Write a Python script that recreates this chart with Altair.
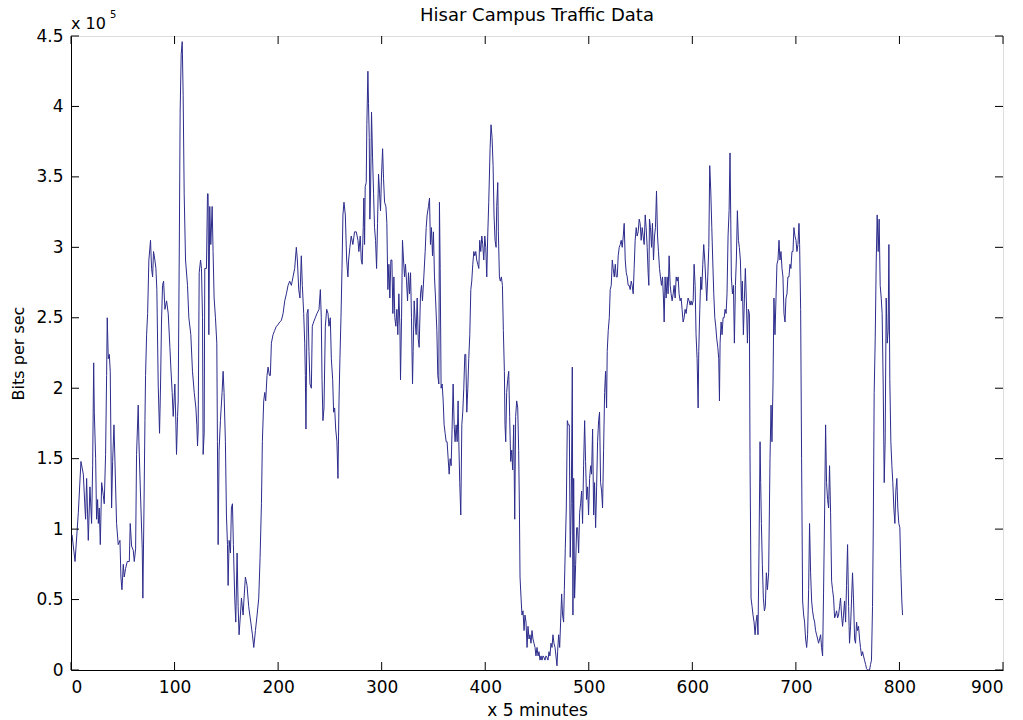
import altair as alt
import pandas as pd

# sample index (x 5 minutes) and traffic in units of 1e5 bits/sec
idx = [1, 3.9, 7.1, 9.6, 11.9, 13.5, 14.1, 15.1, 16.7, 18.3, 19.9, 20.9, 21.9, 22.5, 23.8, 24.7, 25.7, 26.4, 27.3, 28.3,
       29.6, 31.2, 32.1, 33.4, 34.4, 35.0, 36.0, 37.0, 37.9, 39.2, 40.2, 41.5, 42.4, 44.0, 45.6, 47.3, 48.2, 49.2, 50.5, 51.4,
       52.7, 54.3, 56.3, 57.2, 58.5, 60.1, 61.1, 62.4, 63.3, 64.9, 65.6, 66.9, 68.8, 69.4, 70.4, 71.4, 72.0, 73.0, 74.0, 75.2,
       76.8, 77.8, 78.8, 79.7, 81.0, 82.0, 82.9, 84.2, 85.5, 86.5, 87.4, 88.4, 89.4, 90.7, 92.3, 93.9, 95.5, 96.4, 97.7, 98.7,
       100.3, 101.3, 101.9, 102.9, 103.5, 104.5, 105.4, 106.4, 107.4, 108.3, 109.3, 110.6, 112.5, 113.8, 115.7, 117.3, 119.0, 120.6, 121.5, 122.2,
       122.8, 123.8, 125.1, 126.0, 127.0, 127.6, 128.6, 129.2, 130.8, 131.8, 132.4, 133.1, 134.0, 135.0, 136.3, 137.2, 138.2, 139.5, 140.8, 141.4,
       142.1, 143.0, 144.3, 145.9, 146.9, 147.8, 149.1, 150.1, 151.1, 151.7, 152.7, 154.0, 154.9, 155.9, 156.8, 158.1, 159.1, 160.4, 161.4, 162.3,
       163.6, 164.6, 166.2, 167.1, 168.4, 170.0, 171.6, 173.6, 175.2, 176.5, 178.1, 179.7, 181.3, 182.6, 183.9, 184.8, 186.1, 187.1, 188.0, 189.3,
       190.3, 191.6, 192.5, 193.5, 195.1, 196.7, 198.3, 199.9, 201.5, 203.1, 204.8, 206.4, 208.0, 209.6, 211.2, 212.8, 214.4, 216.0, 217.6, 218.6,
       219.9, 221.1, 222.4, 223.4, 224.7, 225.7, 226.3, 226.9, 227.9, 228.9, 229.8, 230.8, 232.1, 233.0, 234.3, 235.9, 237.5, 239.5, 240.8, 241.7,
       242.4, 243.3, 244.3, 245.6, 246.9, 248.2, 249.1, 250.4, 251.4, 252.7, 253.6, 254.6, 255.6, 256.8, 257.8, 258.8, 259.7, 260.7, 261.7, 262.6,
       263.6, 264.9, 266.2, 267.4, 268.1, 269.3, 270.6, 272.2, 273.8, 275.5, 277.1, 278.0, 279.3, 280.3, 281.2, 282.2, 282.8, 283.5, 284.1, 285.1,
       285.7, 286.7, 287.3, 288.0, 288.6, 289.3, 290.2, 291.2, 292.2, 293.1, 294.1, 295.1, 296.0, 297.0, 298.0, 298.9, 299.9, 300.9, 301.8, 302.8,
       304.1, 305.0, 306.0, 307.0, 307.9, 308.9, 309.9, 310.8, 311.8, 312.7, 313.7, 314.7, 315.6, 316.6, 317.6, 318.2, 319.2, 320.1, 321.1, 322.1,
       323.0, 324.0, 325.0, 325.9, 326.9, 327.9, 328.8, 329.8, 330.4, 331.4, 332.4, 333.3, 334.3, 335.3, 336.2, 337.5, 338.5, 339.4, 340.7, 342.0,
       343.0, 343.9, 345.2, 346.2, 347.1, 348.1, 349.1, 350.0, 351.0, 352.0, 353.3, 354.2, 355.2, 355.8, 356.5, 357.4, 358.4, 359.4, 360.3, 361.3,
       362.3, 363.2, 364.2, 365.2, 366.1, 367.1, 368.0, 369.0, 370.0, 370.9, 371.9, 372.9, 373.8, 374.5, 375.4, 376.4, 377.4, 378.3, 379.3, 380.3,
       381.2, 382.2, 383.2, 384.1, 385.1, 386.1, 387.0, 388.0, 389.0, 389.9, 390.9, 391.8, 392.8, 393.8, 394.7, 395.7, 396.7, 397.6, 398.6, 399.6,
       400.5, 401.5, 402.4, 403.4, 404.7, 405.6, 406.6, 407.6, 408.5, 409.5, 410.5, 411.1, 412.1, 412.7, 413.7, 414.6, 415.6, 416.6, 417.5, 418.5,
       419.1, 419.8, 420.7, 421.7, 422.7, 423.6, 424.6, 425.6, 426.5, 427.5, 428.5, 429.4, 430.4, 431.4, 432.3, 433.0, 433.6, 434.6, 435.5, 436.5,
       437.5, 438.4, 439.4, 440.4, 441.3, 442.3, 443.2, 444.2, 445.2, 446.1, 447.1, 448.1, 449.0, 450.0, 451.0, 451.9, 452.9, 453.9, 454.8, 455.8,
       456.7, 457.7, 458.7, 459.6, 460.6, 461.6, 462.5, 463.5, 464.5, 465.4, 466.4, 467.4, 468.3, 469.3, 469.9, 470.9, 471.9, 472.8, 473.8, 474.7,
       475.7, 476.4, 477.3, 478.3, 479.3, 480.2, 481.2, 482.1, 483.1, 484.1, 484.7, 485.4, 486.3, 487.3, 488.3, 489.2, 490.2, 491.2, 492.1, 493.1,
       494.0, 495.0, 496.0, 496.9, 497.9, 498.9, 499.8, 500.8, 501.8, 502.7, 503.7, 504.7, 505.6, 506.6, 507.5, 508.5, 509.5, 510.4, 511.4, 512.4,
       513.3, 514.3, 515.3, 516.2, 517.2, 517.8, 518.8, 519.8, 520.7, 521.7, 522.7, 523.6, 524.6, 525.6, 526.5, 527.5, 528.4, 529.4, 530.4, 531.3,
       532.3, 533.3, 534.2, 535.2, 536.2, 537.1, 538.1, 539.0, 540.0, 541.0, 541.9, 542.9, 543.8, 544.8, 545.8, 546.7, 547.7, 548.7, 549.6, 550.6,
       551.6, 552.5, 553.5, 554.5, 555.4, 556.4, 557.3, 558.0, 558.6, 559.6, 560.6, 561.5, 562.5, 563.5, 564.4, 565.4, 566.4, 567.3, 568.3, 569.2,
       570.2, 571.2, 572.1, 572.8, 573.7, 574.7, 575.7, 576.6, 577.6, 578.6, 579.5, 580.5, 581.5, 582.4, 583.4, 584.4, 585.3, 586.3, 587.2, 588.2,
       589.2, 590.1, 591.1, 592.1, 593.0, 594.0, 595.0, 595.9, 596.9, 597.9, 598.8, 599.8, 600.8, 601.7, 602.7, 603.6, 604.6, 605.6, 606.2, 607.2,
       608.2, 609.1, 610.1, 611.0, 612.0, 613.0, 613.9, 614.9, 615.9, 616.8, 617.8, 618.8, 619.7, 620.7, 621.7, 622.6, 623.6, 624.6, 625.5, 626.2,
       626.8, 627.8, 628.7, 629.7, 630.7, 631.6, 632.6, 633.5, 634.5, 635.5, 636.4, 637.1, 637.7, 638.7, 639.7, 640.6, 641.6, 642.5, 643.5, 644.5,
       645.4, 646.4, 647.4, 648.3, 649.3, 650.3, 651.2, 652.2, 653.2, 654.1, 655.1, 655.7, 656.7, 657.7, 658.6, 659.6, 660.6, 661.5, 662.5, 663.4,
       664.4, 665.4, 666.0, 666.7, 667.6, 668.6, 669.6, 670.5, 671.5, 672.5, 673.7, 675.0, 676.0, 676.9, 677.9, 678.8, 679.8, 680.8, 681.7, 682.7,
       683.7, 684.6, 685.6, 686.6, 687.5, 688.5, 689.5, 690.4, 691.4, 692.3, 693.3, 694.3, 695.2, 696.2, 697.2, 698.1, 699.1, 700.1, 701.0, 702.0,
       703.0, 703.6, 704.6, 705.5, 706.5, 707.5, 708.4, 709.4, 710.4, 711.3, 712.3, 713.2, 714.2, 715.2, 716.1, 717.1, 718.1, 719.0, 720.0, 721.0,
       721.9, 722.9, 723.9, 724.8, 725.8, 726.7, 727.7, 728.7, 729.6, 730.6, 731.6, 732.5, 733.5, 734.5, 735.4, 736.4, 737.4, 738.3, 739.3, 740.3,
       741.2, 742.2, 743.1, 744.1, 745.1, 746.0, 747.0, 748.0, 748.9, 749.9, 750.9, 751.8, 752.8, 753.8, 754.7, 755.7, 756.7, 757.6, 758.6, 759.5,
       760.5, 761.5, 762.4, 763.4, 764.4, 765.3, 766.3, 767.3, 768.2, 769.2, 770.2, 771.1, 772.1, 773.0, 774.0, 774.7, 775.6, 776.6, 777.6, 778.5,
       779.5, 780.4, 781.4, 782.4, 783.3, 784.3, 785.3, 786.2, 787.2, 788.2, 789.1, 789.8, 790.7, 791.7, 792.7, 793.6, 794.6, 795.6, 796.5, 797.5,
       798.4, 799.4, 800.4, 801.3, 802.3, 803.0]

traffic_e5 = [0.96, 0.77, 1.12, 1.48, 1.39, 1.15, 1.07, 1.36, 0.92, 1.30, 1.04, 1.45, 2.18, 1.83, 1.50, 1.07, 1.21, 1.04, 1.15, 0.89,
              1.33, 1.24, 1.18, 1.53, 2.09, 2.50, 2.21, 2.24, 2.12, 1.15, 1.48, 1.74, 1.49, 1.04, 0.89, 0.92, 0.66, 0.57, 0.75, 0.66,
              0.72, 0.77, 0.77, 1.04, 0.88, 0.85, 0.77, 0.86, 1.53, 1.88, 1.62, 1.30, 0.86, 0.51, 1.10, 1.77, 2.09, 2.38, 2.53, 2.91,
              3.05, 2.85, 2.79, 2.97, 2.91, 2.85, 2.70, 2.03, 1.68, 2.03, 2.47, 2.73, 2.76, 2.56, 2.62, 2.53, 2.29, 2.15, 1.97, 1.80,
              2.03, 1.74, 1.53, 1.80, 1.91, 2.91, 3.96, 4.37, 4.46, 4.08, 3.38, 2.91, 2.73, 2.50, 2.38, 2.12, 1.97, 1.86, 1.74, 1.59,
              1.71, 2.82, 2.91, 2.85, 2.50, 1.53, 1.68, 2.85, 2.85, 3.38, 3.38, 2.38, 3.29, 3.02, 3.29, 2.97, 2.64, 2.50, 2.32, 1.62,
              0.89, 1.56, 1.77, 1.97, 2.12, 1.97, 1.62, 1.10, 0.89, 0.60, 0.92, 0.83, 1.15, 1.18, 0.89, 0.51, 0.34, 0.83, 0.45, 0.25,
              0.39, 0.51, 0.39, 0.51, 0.66, 0.60, 0.45, 0.34, 0.25, 0.16, 0.28, 0.39, 0.51, 0.80, 1.18, 1.62, 1.91, 1.97, 1.91, 2.09,
              2.15, 2.09, 2.09, 2.32, 2.38, 2.41, 2.44, 2.45, 2.47, 2.48, 2.53, 2.62, 2.67, 2.73, 2.76, 2.73, 2.79, 2.85, 3.00, 2.91,
              2.70, 2.64, 2.94, 2.73, 2.53, 2.32, 2.09, 1.71, 2.53, 2.56, 2.26, 2.03, 2.00, 2.44, 2.47, 2.50, 2.53, 2.56, 2.70, 2.50,
              2.06, 1.77, 1.86, 2.44, 2.56, 2.53, 2.44, 2.50, 2.21, 2.06, 1.83, 1.86, 1.71, 1.62, 1.36, 1.91, 2.21, 2.50, 2.85, 3.23,
              3.32, 3.23, 2.91, 2.79, 2.91, 3.00, 3.08, 3.02, 3.11, 3.11, 3.05, 2.97, 3.08, 2.91, 2.88, 3.14, 3.35, 3.02, 3.43, 3.46,
              3.87, 4.25, 4.02, 3.78, 3.20, 3.40, 3.96, 3.64, 3.38, 3.14, 3.05, 2.85, 3.17, 3.52, 3.38, 3.26, 3.52, 3.70, 3.49, 3.32,
              3.29, 3.17, 2.70, 2.88, 2.64, 2.91, 2.91, 2.53, 2.79, 2.50, 2.44, 2.56, 2.38, 2.67, 2.44, 2.06, 2.50, 3.05, 2.91, 2.79,
              2.88, 2.76, 2.62, 2.82, 2.67, 2.82, 2.50, 2.03, 2.26, 2.62, 2.47, 2.38, 2.64, 2.35, 2.29, 2.67, 2.73, 2.62, 2.79, 2.97,
              3.14, 3.23, 3.29, 3.35, 3.02, 3.14, 2.94, 3.11, 2.79, 2.64, 2.41, 2.09, 2.03, 3.32, 2.85, 2.00, 2.03, 1.91, 1.74, 1.68,
              1.62, 1.62, 1.50, 1.39, 1.50, 1.45, 1.71, 2.03, 1.74, 1.62, 1.74, 1.62, 1.91, 1.62, 1.33, 1.10, 1.74, 1.83, 2.00, 2.24,
              2.24, 1.83, 2.00, 2.21, 2.38, 2.70, 2.76, 2.88, 2.97, 2.94, 2.97, 2.91, 2.88, 2.85, 3.05, 2.97, 3.08, 3.02, 2.91, 3.08,
              3.00, 2.79, 3.08, 3.32, 3.70, 3.87, 3.78, 3.58, 3.23, 3.05, 3.00, 3.29, 3.46, 3.11, 2.79, 2.76, 2.79, 2.73, 2.41, 2.12,
              1.74, 1.62, 1.97, 2.06, 2.12, 1.80, 1.48, 1.56, 1.42, 1.74, 1.07, 1.80, 1.91, 1.86, 1.56, 1.15, 0.66, 0.51, 0.39, 0.42,
              0.28, 0.39, 0.34, 0.16, 0.31, 0.22, 0.25, 0.19, 0.28, 0.22, 0.19, 0.16, 0.10, 0.16, 0.10, 0.13, 0.07, 0.10, 0.07, 0.10,
              0.09, 0.07, 0.10, 0.09, 0.07, 0.13, 0.10, 0.19, 0.16, 0.25, 0.19, 0.16, 0.10, 0.03, 0.13, 0.25, 0.16, 0.34, 0.54, 0.39,
              0.34, 0.57, 0.86, 1.15, 1.77, 1.74, 1.74, 0.80, 1.18, 2.15, 0.39, 1.36, 0.51, 0.75, 1.01, 1.01, 0.83, 1.12, 1.18, 1.27,
              1.04, 1.45, 1.77, 1.48, 1.21, 1.30, 1.10, 1.36, 1.45, 1.39, 1.71, 1.10, 1.33, 1.01, 1.27, 1.62, 1.77, 1.83, 1.33, 1.27,
              1.15, 1.56, 1.97, 2.12, 1.86, 2.26, 2.41, 2.50, 2.70, 2.73, 2.91, 2.85, 2.79, 2.88, 2.79, 2.79, 2.94, 3.00, 3.02, 3.05,
              3.00, 3.08, 3.17, 2.91, 2.82, 2.79, 2.73, 2.73, 2.70, 2.76, 2.73, 2.67, 2.85, 3.05, 3.14, 3.08, 3.11, 3.20, 3.17, 3.05,
              3.14, 3.08, 3.02, 3.23, 3.14, 3.00, 2.82, 2.73, 3.20, 3.14, 3.00, 3.17, 2.91, 3.08, 3.14, 3.40, 3.08, 2.97, 2.85, 2.79,
              2.73, 2.79, 2.64, 2.47, 2.79, 2.64, 2.79, 2.67, 2.94, 2.73, 2.67, 2.62, 2.67, 2.73, 2.64, 2.79, 2.76, 2.79, 2.67, 2.62,
              2.64, 2.56, 2.47, 2.50, 2.56, 2.53, 2.59, 2.64, 2.62, 2.59, 2.62, 2.59, 2.62, 2.88, 2.73, 2.38, 2.21, 1.86, 2.26, 2.56,
              2.79, 2.70, 2.88, 3.02, 2.91, 2.76, 2.62, 2.79, 3.00, 3.58, 3.40, 3.14, 2.91, 2.67, 2.50, 2.44, 2.35, 2.29, 2.21, 1.91,
              2.32, 2.47, 2.38, 2.50, 2.50, 2.56, 2.53, 2.67, 3.08, 3.26, 3.67, 3.20, 2.79, 2.67, 2.73, 2.32, 2.73, 2.91, 3.26, 3.05,
              3.00, 2.91, 2.62, 2.76, 2.38, 2.64, 2.85, 2.62, 2.32, 2.56, 2.53, 1.53, 0.51, 0.45, 0.39, 0.34, 0.25, 0.34, 0.39, 0.25,
              0.86, 1.62, 1.33, 1.04, 0.75, 0.51, 0.42, 0.45, 0.69, 0.57, 0.69, 1.50, 1.88, 1.62, 2.03, 2.64, 2.38, 2.64, 2.88, 2.91,
              3.05, 2.91, 2.97, 2.85, 2.79, 2.53, 2.47, 2.64, 2.67, 2.79, 2.79, 2.88, 2.85, 2.97, 2.97, 3.14, 3.08, 3.05, 2.97, 3.02,
              3.17, 3.02, 2.56, 1.50, 0.49, 0.39, 0.34, 0.22, 0.16, 0.25, 0.57, 1.04, 0.69, 0.49, 0.42, 0.37, 0.34, 0.28, 0.25, 0.22,
              0.19, 0.22, 0.25, 0.16, 0.10, 0.54, 1.10, 1.74, 1.33, 1.21, 1.15, 1.45, 1.12, 0.63, 0.57, 0.51, 0.37, 0.39, 0.42, 0.37,
              0.39, 0.45, 0.51, 0.39, 0.31, 0.39, 0.49, 0.34, 0.60, 0.89, 0.45, 0.19, 0.31, 0.51, 0.69, 0.49, 0.22, 0.19, 0.34, 0.28,
              0.31, 0.22, 0.16, 0.10, 0.13, 0.10, 0.07, 0.04, 0.01, 0.00, 0.00, 0.00, 0.04, 0.07, 0.45, 0.98, 1.97, 2.35, 2.91, 3.23,
              2.97, 3.20, 2.73, 2.64, 2.53, 2.03, 1.33, 1.62, 2.64, 2.32, 2.41, 3.02, 2.06, 1.62, 1.45, 1.33, 1.15, 1.04, 1.27, 1.36,
              1.15, 1.04, 1.01, 0.72, 0.49, 0.39]

x_ticks = [0, 100, 200, 300, 400, 500, 600, 700, 800, 900]
y_ticks = [0, 0.5, 1, 1.5, 2, 2.5, 3, 3.5, 4, 4.5]

W, H = 932, 634
FONT = "DejaVu Sans"
LINE_COLOR = "#2c2c8c"

n = min(len(idx), len(traffic_e5))
df = pd.DataFrame({"x": idx[:n], "bps": [v * 1e5 for v in traffic_e5[:n]]})
xt = pd.DataFrame({"x": x_ticks})
yt = pd.DataFrame({"bps": [v * 1e5 for v in y_ticks]})

xscale = alt.Scale(domain=[0, 900], nice=False, zero=False)
yscale = alt.Scale(domain=[0, 450000], nice=False, zero=False)

x_axis = alt.Axis(values=x_ticks, title="x 5 minutes", grid=False, tickSize=0,
                  labelPadding=9, labelFont=FONT, labelFontSize=17, labelColor="black",
                  domainColor="black", titleFont=FONT, titleFontSize=17,
                  titleFontWeight="normal", titleColor="black",
                  titleX=W / 2, titleY=45, titleBaseline="alphabetic", titleAlign="center")
y_axis = alt.Axis(values=[v * 1e5 for v in y_ticks], labelExpr="datum.value / 100000",
                  title="Bits per sec", grid=False, tickSize=0, labelPadding=8,
                  labelFont=FONT, labelFontSize=17, labelColor="black", domainColor="black",
                  titleFont=FONT, titleFontSize=16, titleFontWeight="normal", titleColor="black",
                  titleX=-53, titleY=H / 2, titleAngle=270, titleBaseline="middle",
                  titleAlign="center")

line = alt.Chart(df).mark_line(color=LINE_COLOR, strokeWidth=1, clip=True).encode(
    x=alt.X("x:Q", scale=xscale, axis=x_axis),
    y=alt.Y("bps:Q", scale=yscale, axis=y_axis),
    order="x:Q",
)

tick_bottom = alt.Chart(xt).mark_rule(color="black", strokeWidth=1).encode(
    x=alt.X("x:Q", scale=xscale, axis=x_axis), y=alt.value(H), y2=alt.value(H - 8))
tick_top = alt.Chart(xt).mark_rule(color="black", strokeWidth=1).encode(
    x=alt.X("x:Q", scale=xscale, axis=x_axis), y=alt.value(0), y2=alt.value(8))
tick_left = alt.Chart(yt).mark_rule(color="black", strokeWidth=1).encode(
    y=alt.Y("bps:Q", scale=yscale, axis=y_axis), x=alt.value(0), x2=alt.value(8))
tick_right = alt.Chart(yt).mark_rule(color="black", strokeWidth=1).encode(
    y=alt.Y("bps:Q", scale=yscale, axis=y_axis), x=alt.value(W), x2=alt.value(W - 8))

title_txt = alt.Chart(pd.DataFrame({"s": ["Hisar Campus Traffic Data"]})).mark_text(
    font=FONT, fontSize=18, align="center", baseline="alphabetic", color="black").encode(
    text="s:N", x=alt.value(W / 2), y=alt.value(-15))
exp_base = alt.Chart(pd.DataFrame({"s": ["x 10"]})).mark_text(
    font=FONT, fontSize=16, align="left", baseline="alphabetic", color="black").encode(
    text="s:N", x=alt.value(0), y=alt.value(-7))
exp_pow = alt.Chart(pd.DataFrame({"s": ["5"]})).mark_text(
    font=FONT, fontSize=10, align="left", baseline="alphabetic", color="black").encode(
    text="s:N", x=alt.value(39), y=alt.value(-18))

chart = alt.layer(line, tick_bottom, tick_top, tick_left, tick_right,
                  title_txt, exp_base, exp_pow).properties(
    width=W, height=H,
    autosize=alt.AutoSizeParams(type="none"),
    padding={"left": 71, "top": 36, "right": 20, "bottom": 50},
).configure_view(stroke="black", strokeWidth=1).configure(background="white")

chart.save("out.html", embed_options={"renderer": "svg", "actions": False})
